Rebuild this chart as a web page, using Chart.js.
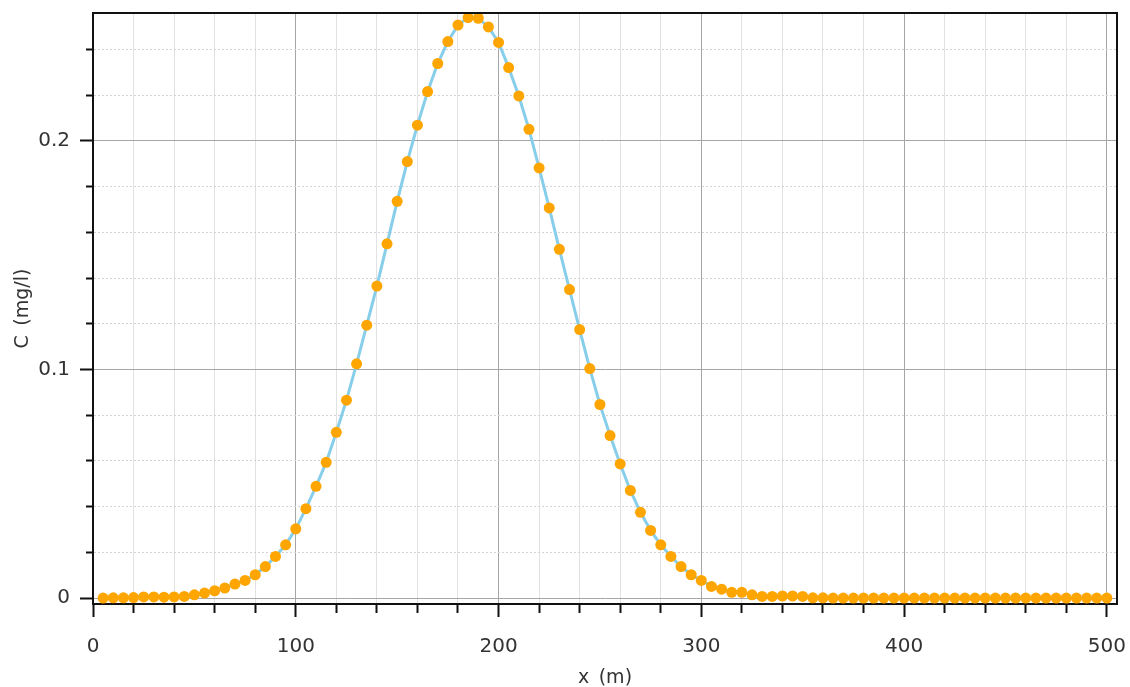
<!DOCTYPE html>
<html>
<head>
<meta charset="utf-8">
<script src="https://cdn.jsdelivr.net/npm/chart.js@4"></script>
<style>
  html, body { margin: 0; padding: 0; background: #fff; }
  #wrap { width: 1130px; height: 687px; }
</style>
</head>
<body>
<div id="wrap"><canvas id="concChart"></canvas></div>
<script>
// distance along x (m)
const xValues = [
    5, 10, 15, 20, 25, 30, 35, 40, 45, 50,
    55, 60, 65, 70, 75, 80, 85, 90, 95, 100,
    105, 110, 115, 120, 125, 130, 135, 140, 145, 150,
    155, 160, 165, 170, 175, 180, 185, 190, 195, 200,
    205, 210, 215, 220, 225, 230, 235, 240, 245, 250,
    255, 260, 265, 270, 275, 280, 285, 290, 295, 300,
    305, 310, 315, 320, 325, 330, 335, 340, 345, 350,
    355, 360, 365, 370, 375, 380, 385, 390, 395, 400,
    405, 410, 415, 420, 425, 430, 435, 440, 445, 450,
    455, 460, 465, 470, 475, 480, 485, 490, 495, 500
];
// concentration C (mg/l)
const concValues = [
    0.0000, 0.0001, 0.0001, 0.0002, 0.0005, 0.0005, 0.0004, 0.0005, 0.0007, 0.0014,
    0.0022, 0.0032, 0.0044, 0.0061, 0.0077, 0.0102, 0.0138, 0.0182, 0.0233, 0.0303,
    0.0391, 0.0489, 0.0594, 0.0725, 0.0866, 0.1025, 0.1194, 0.1365, 0.1550, 0.1736,
    0.1910, 0.2069, 0.2216, 0.2339, 0.2435, 0.2507, 0.2540, 0.2537, 0.2499, 0.2431,
    0.2321, 0.2197, 0.2051, 0.1882, 0.1707, 0.1526, 0.1350, 0.1175, 0.1004, 0.0847,
    0.0711, 0.0587, 0.0471, 0.0375, 0.0296, 0.0233, 0.0182, 0.0138, 0.0102, 0.0077,
    0.0051, 0.0039, 0.0025, 0.0025, 0.0014, 0.0007, 0.0007, 0.0009, 0.0009, 0.0007,
    0.0001, 0.0001, 0.0000, 0.0000, 0.0000, 0.0000, 0.0000, 0.0000, 0.0000, 0.0000,
    0.0000, 0.0000, 0.0000, 0.0000, 0.0000, 0.0000, 0.0000, 0.0000, 0.0000, 0.0000,
    0.0000, 0.0000, 0.0000, 0.0000, 0.0000, 0.0000, 0.0000, 0.0000, 0.0000, 0.0000
];
const xTicks = [0, 20, 40, 60, 80, 100, 120, 140, 160, 180, 200, 220, 240, 260, 280,
    300, 320, 340, 360, 380, 400, 420, 440, 460, 480, 500];
const xLabelTicks = [0, 100, 200, 300, 400, 500];
const yTicks = [0, 0.02, 0.04, 0.06, 0.08, 0.1, 0.12, 0.14, 0.16, 0.18, 0.2, 0.22, 0.24];
const yLabelTicks = [0, 0.1, 0.2];

const fontFamily = '"DejaVu Sans", sans-serif';
const isMajor = (ctx, list) => ctx.tick && list.includes(ctx.tick.value);

// black frame on top and right of the plot area
const frame = {
    id: 'frame',
    afterDraw(chart) {
        const a = chart.chartArea;
        const c = chart.ctx;
        c.save();
        c.strokeStyle = '#111';
        c.lineWidth = 2;
        c.beginPath();
        c.moveTo(a.left, a.top);
        c.lineTo(a.right, a.top);
        c.lineTo(a.right, a.bottom);
        c.stroke();
        c.restore();
    }
};

new Chart(document.getElementById('concChart'), {
    type: 'line',
    data: {
        datasets: [{
            data: xValues.map((x, i) => ({ x: x, y: concValues[i] })),
            borderColor: 'rgb(135, 206, 235)',
            borderWidth: 3,
            backgroundColor: 'rgb(255, 165, 0)',
            pointBackgroundColor: 'rgb(255, 165, 0)',
            pointBorderWidth: 0,
            pointRadius: 5.5,
            fill: false,
            tension: 0
        }]
    },
    options: {
        responsive: true,
        maintainAspectRatio: false,
        animation: false,
        layout: { padding: { top: 13, right: 13, left: 0, bottom: 0 } },
        plugins: { legend: { display: false }, tooltip: { enabled: false } },
        scales: {
            x: {
                type: 'linear',
                min: 0,
                max: 505,
                afterBuildTicks: axis => { axis.ticks = xTicks.map(v => ({ value: v })); },
                afterFit: axis => {
                    axis.height = 83;
                    axis.paddingLeft = 0;
                    axis.paddingRight = 0;
                },
                ticks: {
                    autoSkip: false,
                    maxRotation: 0,
                    padding: 18,
                    color: '#333',
                    font: { family: fontFamily, size: 20 },
                    callback: v => xLabelTicks.includes(v) ? String(v) : ''
                },
                grid: {
                    color: ctx => isMajor(ctx, xLabelTicks) ? '#a6a6a6' : '#e2e2e2',
                    lineWidth: 1,
                    tickLength: 13,
                    tickColor: '#111',
                    tickWidth: 2,
                    tickBorderDash: ctx => isMajor(ctx, xLabelTicks) ? [] : [8, 100]
                },
                border: { display: true, color: '#111', width: 2 },
                title: {
                    display: true,
                    text: 'x\u2002(m)',
                    color: '#333',
                    font: { family: fontFamily, size: 19 },
                    padding: { top: 0, bottom: -2 }
                }
            },
            y: {
                type: 'linear',
                min: -0.0026,
                max: 0.256,
                afterBuildTicks: axis => { axis.ticks = yTicks.map(v => ({ value: v })); },
                afterFit: axis => {
                    axis.width = 93;
                    axis.paddingTop = 0;
                    axis.paddingBottom = 0;
                },
                ticks: {
                    autoSkip: false,
                    padding: 10,
                    color: '#333',
                    font: { family: fontFamily, size: 20 },
                    callback: v => yLabelTicks.includes(v) ? String(v) : ''
                },
                grid: {
                    color: ctx => isMajor(ctx, yLabelTicks) ? '#a6a6a6' : '#d4d4d4',
                    lineWidth: 1,
                    tickLength: 13,
                    tickColor: '#111',
                    tickWidth: 2,
                    tickBorderDash: ctx => isMajor(ctx, yLabelTicks) ? [] : [0, 6, 8, 100]
                },
                border: {
                    display: true,
                    color: '#111',
                    width: 2,
                    dash: ctx => (ctx.tick && !yLabelTicks.includes(ctx.tick.value)) ? [2, 2] : []
                },
                title: {
                    display: true,
                    text: 'C\u2002(mg/l)',
                    color: '#333',
                    font: { family: fontFamily, size: 19 },
                    padding: { top: 12, bottom: 0 }
                }
            }
        }
    },
    plugins: [frame]
});
</script>
</body>
</html>
